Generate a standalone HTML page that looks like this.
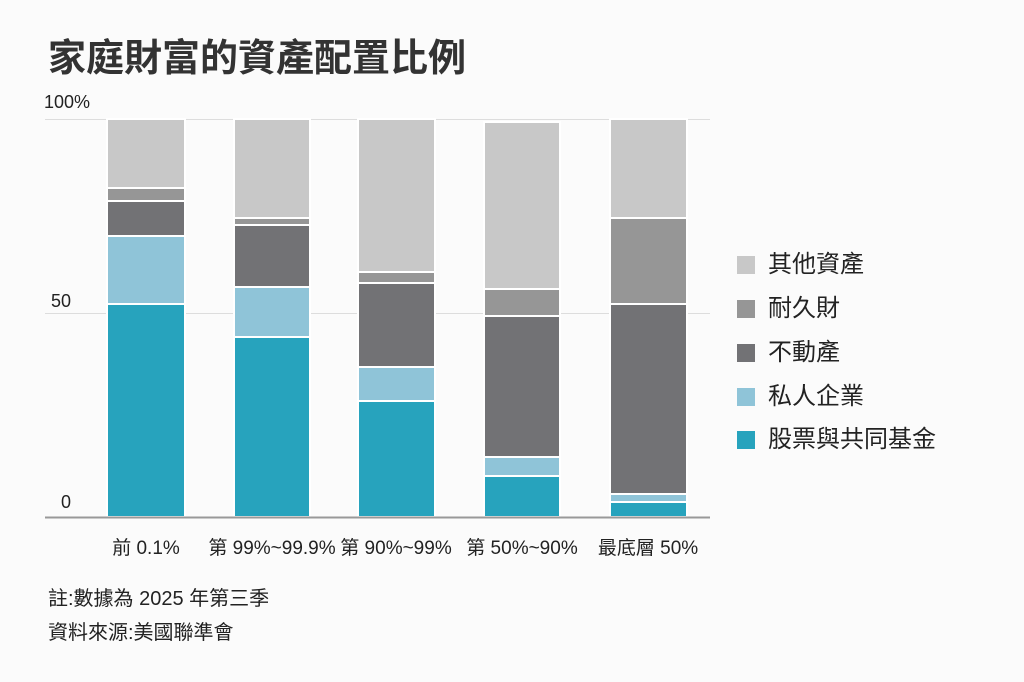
<!DOCTYPE html>
<html><head><meta charset="utf-8"><style>
body{margin:0;width:1024px;height:682px;background:#fbfbfb;font-family:"Liberation Sans","Noto Sans CJK TC",sans-serif;color:#222;position:relative;overflow:hidden}
.a{position:absolute;white-space:nowrap}
.g{position:absolute;left:45px;width:665px;height:1px;background:#ddd}
.lg{position:absolute;left:737px;width:18px;height:18px}
.lt{position:absolute;left:768px;font-size:24px;line-height:24px}
.c{position:absolute;top:533px;font-size:19px;text-align:center;width:160px}
</style></head><body>
<div class="a" style="left:48px;top:27px;font-size:38px;font-weight:bold;color:#333">家庭財富的資產配置比例</div>
<div class="a" style="left:44px;top:92px;font-size:18px">100%</div>
<div class="a" style="left:51px;top:291px;font-size:18px">50</div>
<div class="a" style="left:61px;top:492px;font-size:18px">0</div>
<div class="g" style="top:119px"></div>
<div class="g" style="top:313px"></div>
<svg width="1024" height="682" style="position:absolute;left:0;top:0">
<g stroke="#fff" stroke-width="2">
<rect x="107" y="119" width="78" height="69" fill="#c8c8c8"/>
<rect x="107" y="188" width="78" height="13" fill="#969696"/>
<rect x="107" y="201" width="78" height="35" fill="#727275"/>
<rect x="107" y="236" width="78" height="68" fill="#8fc4d8"/>
<rect x="107" y="304" width="78" height="213" fill="#27a3bd"/>
<rect x="234" y="119" width="76" height="99" fill="#c8c8c8"/>
<rect x="234" y="218" width="76" height="7" fill="#969696"/>
<rect x="234" y="225" width="76" height="62" fill="#727275"/>
<rect x="234" y="287" width="76" height="50" fill="#8fc4d8"/>
<rect x="234" y="337" width="76" height="180" fill="#27a3bd"/>
<rect x="358" y="119" width="77" height="153" fill="#c8c8c8"/>
<rect x="358" y="272" width="77" height="11" fill="#969696"/>
<rect x="358" y="283" width="77" height="84" fill="#727275"/>
<rect x="358" y="367" width="77" height="34" fill="#8fc4d8"/>
<rect x="358" y="401" width="77" height="116" fill="#27a3bd"/>
<rect x="484" y="122" width="76" height="167" fill="#c8c8c8"/>
<rect x="484" y="289" width="76" height="27" fill="#969696"/>
<rect x="484" y="316" width="76" height="141" fill="#727275"/>
<rect x="484" y="457" width="76" height="19" fill="#8fc4d8"/>
<rect x="484" y="476" width="76" height="41" fill="#27a3bd"/>
<rect x="610" y="119" width="77" height="99" fill="#c8c8c8"/>
<rect x="610" y="218" width="77" height="86" fill="#969696"/>
<rect x="610" y="304" width="77" height="190" fill="#727275"/>
<rect x="610" y="494" width="77" height="8" fill="#8fc4d8"/>
<rect x="610" y="502" width="77" height="15" fill="#27a3bd"/>
</g>
<line x1="45" y1="517.5" x2="710" y2="517.5" stroke="#999" stroke-width="2"/>
</svg>
<div class="c" style="left:66px">前 0.1%</div>
<div class="c" style="left:192px">第 99%~99.9%</div>
<div class="c" style="left:316px">第 90%~99%</div>
<div class="c" style="left:442px">第 50%~90%</div>
<div class="c" style="left:568px">最底層 50%</div>
<div class="lg" style="top:256px;background:#c8c8c8"></div><div class="lt" style="top:253px">其他資產</div>
<div class="lg" style="top:300px;background:#969696"></div><div class="lt" style="top:297px">耐久財</div>
<div class="lg" style="top:344px;background:#727275"></div><div class="lt" style="top:341px">不動產</div>
<div class="lg" style="top:388px;background:#8fc4d8"></div><div class="lt" style="top:385px">私人企業</div>
<div class="lg" style="top:431px;background:#27a3bd"></div><div class="lt" style="top:428px">股票與共同基金</div>
<div class="a" style="left:48px;top:582px;font-size:20px">註:數據為 2025 年第三季</div>
<div class="a" style="left:48px;top:616px;font-size:20px">資料來源:美國聯準會</div>
</body></html>
